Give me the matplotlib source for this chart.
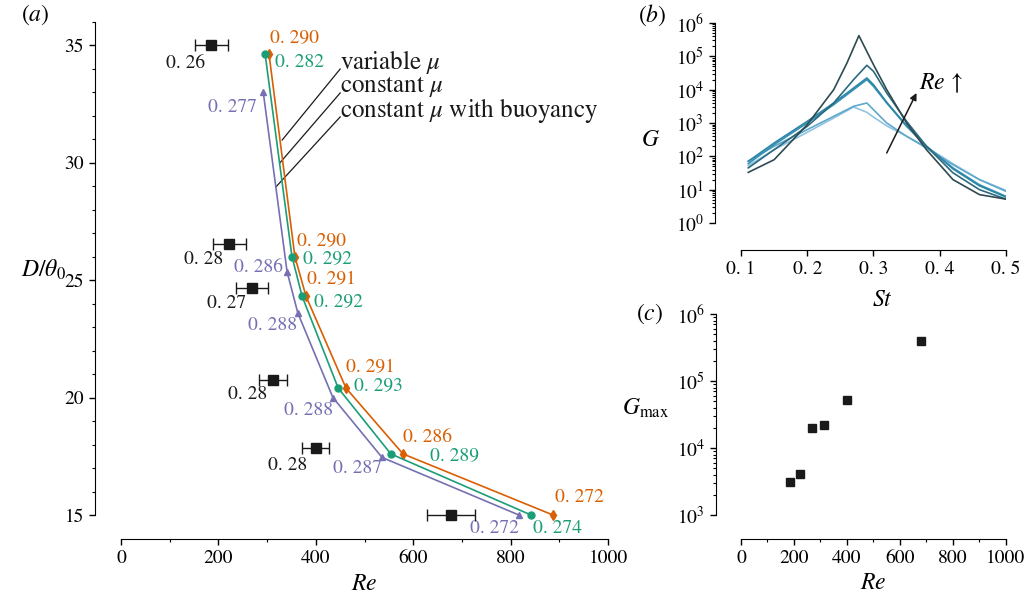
import matplotlib
matplotlib.use("Agg")
import matplotlib.pyplot as plt
from matplotlib.ticker import MultipleLocator, LogLocator, NullFormatter

plt.rcParams['font.family'] = ['STIXGeneral', 'DejaVu Serif']
plt.rcParams['mathtext.fontset'] = 'stix'

# ---- panel (a): D/theta0 vs Re ----
re_var = [304, 357, 380, 462, 579, 887]
d_var = [34.6, 26.0, 24.3, 20.4, 17.6, 15.0]
st_var = ["0. 290", "0. 290", "0. 291", "0. 291", "0. 286", "0. 272"]

re_const = [296, 351, 372, 446, 554, 842]
d_const = [34.6, 26.0, 24.3, 20.4, 17.6, 15.0]
st_const = ["0. 282", "0. 292", "0. 292", "0. 293", "0. 289", "0. 274"]

re_buoy = [292, 341, 363, 435, 536, 817]
d_buoy = [33.0, 25.35, 23.6, 20.0, 17.45, 15.0]
st_buoy = ["0. 277", "0. 286", "0. 288", "0. 288", "0. 287", "0. 272"]

re_exp = [185, 222, 269, 312, 400, 678]
re_exp_err = [34, 34, 32, 29, 28, 49]
d_exp = [35.0, 26.55, 24.65, 20.75, 17.85, 15.0]
st_exp = ["0. 26", "0. 28", "0. 27", "0. 28", "0. 28", ""]

# ---- panel (b): gain spectra G(St), ordered by increasing Re ----
st_grid = [0.111, 0.15, 0.2, 0.24, 0.27, 0.29, 0.30, 0.32, 0.35, 0.38, 0.42, 0.46, 0.5]
g_re185 = [52, 158, 525, 1410, 3020, 2090, 1500, 820, 400, 190, 60, 20, 9.5]
g_re222 = [71, 200, 631, 1585, 3160, 3980, 2510, 1000, 398, 178, 56, 20, 8.9]
g_re269 = [60, 224, 1000, 3550, 10000, 20000, 12600, 3980, 794, 200, 45, 14, 6.3]
g_re312 = [71, 251, 1120, 3980, 11200, 22400, 14100, 4170, 832, 200, 42, 13, 6.0]
g_re400 = [45, 158, 794, 3980, 20000, 53700, 35500, 7940, 1120, 200, 32, 10, 5.2]
st_grid_678 = [0.111, 0.15, 0.2, 0.24, 0.26, 0.278, 0.30, 0.32, 0.35, 0.38, 0.42, 0.46, 0.5]
g_re678 = [33, 79, 891, 10000, 63100, 417000, 56200, 10000, 1000, 158, 20, 7.1, 5.2]

# ---- panel (c): Gmax vs Re ----
g_max = [3100, 4100, 20000, 22000, 52000, 400000]

c_var, c_const, c_buoy = '#d95f02', '#1b9e77', '#7570b3'
blues = ['#92c3df', '#5fa8cb', '#3591b5', '#2c87a6', '#2d6a80', '#2e4a52']

FS = 14
DPI = 100
fig = plt.figure(figsize=(10.29, 6.03), dpi=DPI)


def px2pt(p):
    return p * 72.0 / DPI


def style(ax, out_x, out_y):
    ax.spines['top'].set_visible(False)
    ax.spines['right'].set_visible(False)
    ax.spines['left'].set_position(('outward', px2pt(out_y)))
    ax.spines['bottom'].set_position(('outward', px2pt(out_x)))
    ax.tick_params(which='major', length=4.5, width=1, labelsize=FS, direction='out')
    ax.tick_params(which='minor', length=2.5, width=0.8, direction='out')
    ax.patch.set_visible(False)


# panel (a)
ax = fig.add_axes([0.1176, 0.1459, 0.4733, 0.8184])
style(ax, 24, 26)
ax.set_xlim(0, 1000)
ax.set_ylim(15, 36)
ax.spines['left'].set_bounds(15, 36)
ax.xaxis.set_major_locator(MultipleLocator(200))
ax.xaxis.set_minor_locator(MultipleLocator(100))
ax.yaxis.set_major_locator(MultipleLocator(5))
ax.yaxis.set_minor_locator(MultipleLocator(1))

ax.plot(re_var, d_var, '-', color=c_var, lw=1.2, marker='d', ms=5.5, clip_on=False, zorder=4)
ax.plot(re_const, d_const, '-', color=c_const, lw=1.2, marker='o', ms=5, clip_on=False, zorder=4)
ax.plot(re_buoy, d_buoy, '-', color=c_buoy, lw=1.2, marker='^', ms=5, clip_on=False, zorder=4)
ax.errorbar(re_exp, d_exp, xerr=re_exp_err, fmt='s', color='#1a1a1a', ms=7.5,
            capsize=4, elinewidth=1, capthick=1, clip_on=False, zorder=5)

# Strouhal number labels (offsets in pixels)
off_var = [(1, -17), (2, -16), (1, -17), (0, -21), (0, -16), (2, -18)]
off_const = [(10, 8), (11, 2), (12, 5), (16, -3), (39, 2), (2, 13)]
off_buoy = [(-6, 15), (-4, -4), (-1, 13), (0, 13), (0, 11), (0, 13)]
off_exp = [(-6, 18), (-6, 16), (-6, 15), (-6, 15), (-9, 17), (0, 0)]
for xs, ys, labs, offs, col, ha in [
        (re_var, d_var, st_var, off_var, c_var, 'left'),
        (re_const, d_const, st_const, off_const, c_const, 'left'),
        (re_buoy, d_buoy, st_buoy, off_buoy, c_buoy, 'right'),
        (re_exp, d_exp, st_exp, off_exp, '#1a1a1a', 'right')]:
    for x, y, s, (dx, dy) in zip(xs, ys, labs, offs):
        ax.annotate(s, (x, y), xytext=(px2pt(dx), -px2pt(dy)), textcoords='offset points',
                    ha=ha, va='center', color=col, fontsize=FS)

# legend-like labels with leader lines (baseline of the last line given)
legend_txt = "variable $\\mu$\nconstant $\\mu$\nconstant $\\mu$ with buoyancy"
ax.text(450, 31.94, legend_txt, ha='left', va='baseline', fontsize=18,
        linespacing=0.87, color='#1a1a1a')
leader_start = [(450, 33.98), (450, 32.96), (450, 31.94)]
leader_end = [(331, 30.96), (326, 29.98), (318, 28.96)]
for (x0, y0), (x1, y1) in zip(leader_start, leader_end):
    ax.plot([x0, x1], [y0, y1], color='#1a1a1a', lw=0.9)

ax.set_xlabel('$Re$', fontsize=FS + 3)
ax.xaxis.set_label_coords(0.5, -0.118)
ax.set_ylabel(r'$D/\theta_0$', fontsize=FS + 3, rotation=0, ha='center', va='center')
ax.yaxis.set_label_coords(-0.16, 0.496)

# panel (b)
axb = fig.add_axes([0.7201, 0.6302, 0.2575, 0.3317])
style(axb, 27, 26)
axb.set_yscale('log')
axb.set_xlim(0.1, 0.5)
axb.set_ylim(1, 1e6)
axb.xaxis.set_major_locator(MultipleLocator(0.1))
axb.xaxis.set_major_formatter(plt.FuncFormatter(lambda v, p: f"{v:.1f}".replace('.', '. ')))
axb.yaxis.set_major_locator(LogLocator(base=10, numticks=10))
axb.yaxis.set_minor_locator(LogLocator(base=10, subs=range(2, 10), numticks=20))
axb.yaxis.set_minor_formatter(NullFormatter())
for g, col in zip([g_re185, g_re222, g_re269, g_re312, g_re400], blues[:5]):
    axb.plot(st_grid, g, color=col, lw=1.2)
axb.plot(st_grid_678, g_re678, color=blues[5], lw=1.2)
axb.annotate('', xy=(0.365, 10**3.9), xytext=(0.32, 10**2.1),
             arrowprops=dict(arrowstyle='-|>', lw=1.1, color='#1a1a1a',
                             mutation_scale=10, shrinkA=0, shrinkB=0))
axb.text(0.368, 10**4.2, r'$Re\,\uparrow$', fontsize=FS + 3, ha='left', va='center')
axb.set_xlabel('$St$', fontsize=FS + 3)
axb.xaxis.set_label_coords(0.532, -0.335)
axb.set_ylabel('$G$', fontsize=FS + 3, rotation=0, ha='center', va='center')
axb.yaxis.set_label_coords(-0.343, 0.415)

# panel (c)
axc = fig.add_axes([0.7201, 0.1459, 0.2575, 0.3333])
style(axc, 24, 25)
axc.set_yscale('log')
axc.set_xlim(0, 1000)
axc.set_ylim(1e3, 1e6)
axc.xaxis.set_major_locator(MultipleLocator(200))
axc.xaxis.set_minor_locator(MultipleLocator(100))
axc.yaxis.set_major_locator(LogLocator(base=10, numticks=10))
axc.yaxis.set_minor_locator(LogLocator(base=10, subs=range(2, 10), numticks=20))
axc.yaxis.set_minor_formatter(NullFormatter())
axc.plot(re_exp, g_max, 's', color='#1a1a1a', ms=5.5, clip_on=False)
axc.set_xlabel('$Re$', fontsize=FS + 3)
axc.xaxis.set_label_coords(0.5, -0.289)
axc.set_ylabel(r'$G_{\rm max}$', fontsize=FS + 3, rotation=0, ha='center', va='center')
axc.yaxis.set_label_coords(-0.36, 0.532)

fig.text(35 / 1029, 1 - 15 / 603, '$(a)$', fontsize=FS + 3, ha='center', va='center')
fig.text(652 / 1029, 1 - 15 / 603, '$(b)$', fontsize=FS + 3, ha='center', va='center')
fig.text(650 / 1029, 1 - 314 / 603, '$(c)$', fontsize=FS + 3, ha='center', va='center')

fig.savefig('out.png', dpi=DPI)
